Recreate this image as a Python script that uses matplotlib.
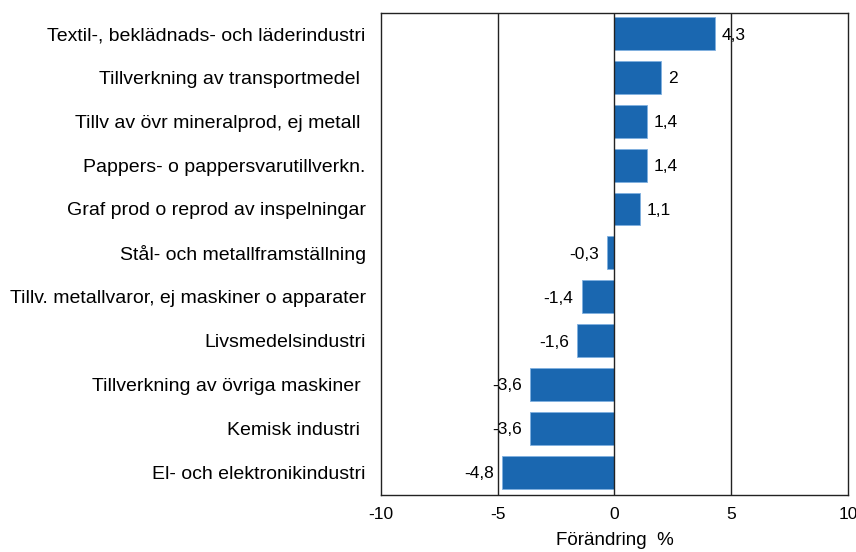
import matplotlib
matplotlib.use("Agg")
import matplotlib.pyplot as plt

categories = [
    "Textil-, beklädnads- och läderindustri",
    "Tillverkning av transportmedel ",
    "Tillv av övr mineralprod, ej metall ",
    "Pappers- o pappersvarutillverkn.",
    "Graf prod o reprod av inspelningar",
    "Stål- och metallframställning",
    "Tillv. metallvaror, ej maskiner o apparater",
    "Livsmedelsindustri",
    "Tillverkning av övriga maskiner ",
    "Kemisk industri ",
    "El- och elektronikindustri",
]
values = [4.3, 2.0, 1.4, 1.4, 1.1, -0.3, -1.4, -1.6, -3.6, -3.6, -4.8]
value_labels = ["4,3", "2", "1,4", "1,4", "1,1", "-0,3", "-1,4", "-1,6", "-3,6", "-3,6", "-4,8"]
xticks = [-10, -5, 0, 5, 10]

plt.rcParams['font.family'] = ['Liberation Sans', 'DejaVu Sans']

fig = plt.figure(figsize=(8.56, 5.52), dpi=100)
ax = fig.add_axes([0.445, 0.1033, 0.5457, 0.8731])

y = list(range(len(categories)))
ax.barh(y, values, height=0.75, color="#1a67b0", edgecolor="#7fb0e0", linewidth=0.6, zorder=3)
for v in [-5, 0, 5]:
    ax.axvline(v, color="#222222", linewidth=1.0, zorder=4)

for yi, v, lab in zip(y, values, value_labels):
    if v >= 0:
        ax.annotate(lab, (v, yi), xytext=(5, 0), textcoords="offset points",
                    va="center_baseline", ha="left", fontsize=12.5, zorder=5)
    else:
        ax.annotate(lab, (v, yi), xytext=(-6, 0), textcoords="offset points",
                    va="center_baseline", ha="right", fontsize=12.5, zorder=5)

ax.set_xlim(-10, 10)
ax.set_ylim(len(categories) - 1 + 0.52, -0.467)
ax.set_yticks(y)
ax.set_yticklabels(categories, fontsize=14.0)
ax.set_xticks(xticks)
ax.set_xticklabels([str(t) for t in xticks], fontsize=12.5)
ax.tick_params(axis="x", length=0, pad=9)
ax.tick_params(axis="y", length=0, pad=11)
for s in ax.spines.values():
    s.set_color("#222222")
    s.set_linewidth(1.0)
ax.set_xlabel("Förändring  %", fontsize=13.5, labelpad=7)

fig.savefig("out.png", dpi=100)
